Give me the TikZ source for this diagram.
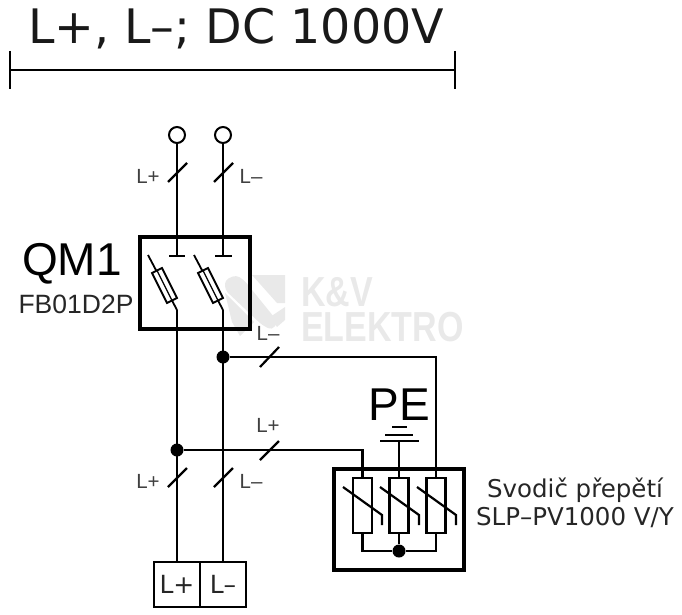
\documentclass[tikz,border=0pt]{standalone}
\usepackage{fontspec}
\setmainfont{Liberation Sans}
\newfontfamily\dejav{DejaVu Sans}
\definecolor{wm}{HTML}{E9E9E9}
\tikzset{
  wire/.style={line width=2.5pt,line join=miter},
  thin wire/.style={line width=2pt},
  heavy/.style={draw,line width=4pt,minimum width=#1,inner sep=0pt,fill=none},
  slash/.style={line width=2.2pt},
  dotn/.style={circle,fill=black,draw=none,minimum size=13pt,inner sep=0pt},
  ring/.style={circle,draw,line width=2pt,minimum size=16pt,inner sep=0pt},
  lab/.style={inner sep=0pt,font=\fontsize{20.5}{20.5}\selectfont,text=black!75},
  ele/.style={draw,line width=2.2pt,inner sep=0pt,minimum width=19pt,minimum height=55pt},
  term/.style={draw,line width=2.2pt,inner sep=0pt,minimum width=46pt,minimum height=45pt,text=black!85,font=\dejav\fontsize{25}{25}\selectfont},
  wmtext/.style={inner sep=0pt,text=wm,font=\bfseries\fontsize{42}{42}\selectfont,anchor=base west,xscale=0.81},
}
\begin{document}
\begin{tikzpicture}[x=1pt,y=-1pt]
\useasboundingbox (0,0) rectangle (682,615);
% watermark
\fill[wm,rounded corners=4pt] (225,280) -- (236,275) -- (244,280) -- (278,322) -- (272,330) -- (262,325) -- (225,290) -- cycle;
\fill[wm] (225,293) -- (254,322) -- (240,336) -- (232,322) -- cycle;
\fill[wm] (252,275) -- (285,275) -- (285,303) -- (277,303) -- cycle;
\fill[wm] (285,307) -- (285,320) -- (277,327) -- (270,317) -- cycle;
\node[wmtext] (wmA) at (301,306) {K\&V};
\node[wmtext] (wmB) at (301,341) {ELEKTRO};
% title
\node[inner sep=0pt,anchor=base,font=\dejav\fontsize{47.5}{47.5}\selectfont,text=black!90] (title) at (236,44) {L+, L–; DC 1000V};
\coordinate (dimL) at (10,70); \coordinate (dimR) at (455,70);
\draw[thin wire] (dimL) -- (dimR);
\draw[thin wire] (10,51) -- (10,89);
\draw[thin wire] (455,51) -- (455,89);
% QM1
\node[heavy=110pt,minimum height=92pt] (qm) at (195,283) {};
\node[inner sep=0pt,anchor=base,font=\fontsize{46}{46}\selectfont] (qmt) at (72,275) {QM1};
\node[inner sep=0pt,anchor=base,font=\fontsize{26.5}{26.5}\selectfont,text=black!85] (qmf) at (76,313) {FB01D2P};
% top terminals
\node[ring] (c1) at (177,135) {};
\node[ring] (c2) at (223,135) {};
\coordinate (t1) at (177,256); \coordinate (t2) at (223,256);
\draw[wire] (c1) -- (t1);
\draw[wire] (c2) -- (t2);
\draw[wire] (169,256) -- (185,256);
\draw[wire] (215,256) -- (232,256);
% switches + fuses
\foreach \d/\n in {0/a,46/b}{
  \begin{scope}[xshift=\d pt]
  \draw[line width=1.8pt] (148,255) -- (177,310);
  \draw[line width=1.8pt,fill=white] (152,273) -- (162,268) -- (177,298) -- (167,303) -- cycle;
  \draw[line width=1.2pt] (157,270.5) -- (172,300.5);
  \end{scope}
}
% dots
\node[dotn] (d1) at (223,357) {};
\node[dotn] (d2) at (177,450) {};
% terminals
\node[term] (tp) at (177,584.5) {L+};
\node[term] (tm) at (223,584.5) {L–};
% main wires
\coordinate (s1) at (177,310); \coordinate (s2) at (223,310);
\draw[wire] (s1) -- (tp.north -| s1);
\draw[wire] (s2) -- (tm.north -| s2);
% surge box
\node[heavy=130pt,minimum height=101pt] (sb) at (399,519.5) {};
\node[ele] (r1) at (362.5,505.5) {};
\node[ele] (r2) at (399,505.5) {};
\node[ele] (r3) at (436,505.5) {};
\draw[wire] (d1) -| (r3.north);
\draw[wire] (d2) -| (r1.north);
\node[dotn] (d3) at (399,551) {};
\draw[wire] (r1.south) |- (d3);
\draw[wire] (r3.south) |- (d3);
\draw[wire] (r2.south) -- (d3);
\foreach \d in {0,37,74}{
  \draw[line width=2.2pt] ([xshift=\d pt]343,487) -- ([xshift=\d pt]382,515) -- ([xshift=\d pt]382,525);
}
% PE
\node[inner sep=0pt,anchor=base,font=\fontsize{46}{46}\selectfont] (pe) at (399,420) {PE};
\coordinate (g) at (399,441);
\draw[wire] (g) -- (r2.north);
\draw[wire] (380,441) -- (419,441);
\draw[wire] (385,435) -- (413,435);
\draw[wire] (392,427) -- (407,427);
% surge label
\node[inner sep=0pt,anchor=base,font=\dejav\fontsize{24.5}{24.5}\selectfont,text=black!85] (sv1) at (575,497) {Svodič přepětí};
\node[inner sep=0pt,anchor=base,font=\dejav\fontsize{24.5}{24.5}\selectfont,text=black!85] (sv2) at (575,525) {SLP–PV1000 V/Y};
% slashes
\draw[slash] (168,182) -- (187,163);
\draw[slash] (214,182) -- (233,163);
\draw[slash] (168,487) -- (187,468);
\draw[slash] (214,487) -- (233,468);
\draw[slash] (260,367) -- (279,347);
\draw[slash] (260,460) -- (279,441);
% labels
\node[lab] (l1) at (148,176) {L+};
\node[lab] (l2) at (251,176) {L–};
\node[lab] (l3) at (148,481) {L+};
\node[lab] (l4) at (251,481) {L–};
\node[lab] (l5) at (268,333) {L–};
\node[lab] (l6) at (268,425) {L+};
\end{tikzpicture}
\end{document}
